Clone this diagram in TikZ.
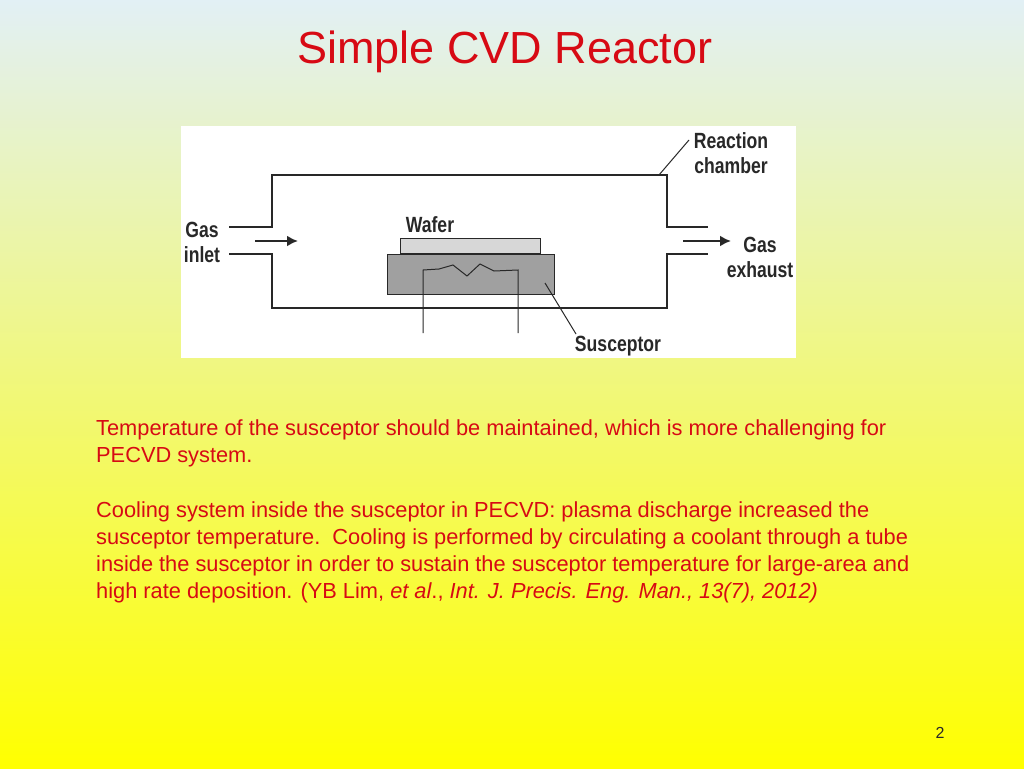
\documentclass[tikz,border=0pt]{standalone}
\usepackage{fontspec}
\setmainfont{Liberation Sans}
\usetikzlibrary{arrows.meta}
\definecolor{tred}{RGB}{215,10,20}
\definecolor{dtxt}{RGB}{40,40,40}
\begin{document}
\begin{tikzpicture}[x=1pt,y=-1pt,
  wall/.style={line width=2.2pt,draw=dtxt},
  thin/.style={line width=1pt,draw=dtxt},
  lab/.style={font=\bfseries\fontsize{22}{25}\selectfont,text=dtxt,xscale=0.8,align=center,inner sep=0pt},
  body/.style={font=\fontsize{21.8}{27}\selectfont,text=tred,anchor=north west,align=left,inner sep=0pt},
  flow/.style={line width=2.2pt,draw=dtxt,-{Latex[length=11pt,width=11pt]}}]
\shade[shading angle=75,top color={rgb,255:red,226;green,240;blue,245},bottom color={rgb,255:red,255;green,255;blue,0}] (0,0) rectangle (1024,768);
\useasboundingbox (0,0) rectangle (1024,768);
\node[font=\fontsize{45}{50}\selectfont,text=tred] (title) at (505,52) {Simple CVD Reactor};
\fill[white] (181,126) rectangle (796,358);
% chamber
\draw[wall] (229,227) -- (272,227) -- (272,175) -- (667,175) -- (667,227) -- (708,227);
\draw[wall] (229,254) -- (272,254) -- (272,308) -- (667,308) -- (667,254) -- (708,254);
\coordinate (inA) at (255,241); \coordinate (inB) at (298,241);
\coordinate (exA) at (683,241); \coordinate (exB) at (731,241);
\draw[flow] (inA) -- (inB);
\draw[flow] (exA) -- (exB);
% susceptor & wafer
\node[draw=dtxt,line width=1pt,fill={rgb,255:red,160;green,160;blue,160},minimum width=167pt,minimum height=40pt,inner sep=0pt] (susc) at (470.5,274) {};
\node[draw=dtxt,line width=1pt,fill={rgb,255:red,215;green,215;blue,215},minimum width=140pt,minimum height=15pt,inner sep=0pt,anchor=south] (wafer) at (susc.north) {};
\draw[thin] (423,333) -- (423,270) -- (439,269) -- (453,265) -- (467,276) -- (480,264) -- (494,271) -- (518,270) -- (518,333);
% labels
\node[lab] (gasin) at (202,242) {Gas\\inlet};
\node[lab] (gasex) at (760,257) {Gas\\exhaust};
\node[lab] (wlab) at (430,225) {Wafer};
\node[lab] (slab) at (618,346) {Susceptor};
\node[lab] (rlab) at (731,153) {Reaction\\chamber};
\coordinate (rc) at (659,175); \coordinate (rt) at (689,140);
\coordinate (sc) at (545,283); \coordinate (st) at (576,334);
\draw[thin] (rc) -- (rt);
\draw[thin] (sc) -- (st);
\node[body] (p1) at (96,419) {Temperature of the susceptor should be maintained, which is more challenging for\\PECVD system.};
\node[body] (p2) at (96,501) {Cooling system inside the susceptor in PECVD: plasma discharge increased the\\susceptor temperature.\ \ Cooling is performed by circulating a coolant through a tube\\inside the susceptor in order to sustain the susceptor temperature for large-area and\\high rate deposition. (YB Lim, \textit{et al}., \textit{Int. J. Precis. Eng. Man., 13(7), 2012)}};
\node[font=\fontsize{16}{18}\selectfont,text=dtxt] (pg) at (940,733) {2};
\end{tikzpicture}
\end{document}
